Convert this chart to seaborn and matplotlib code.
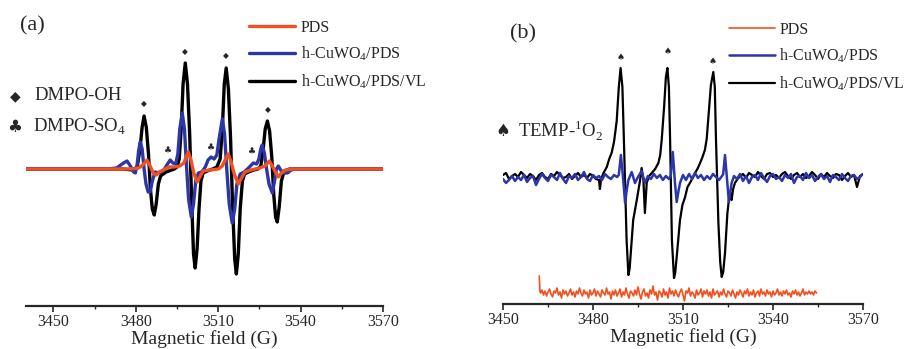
"""
EPR spectra of DMPO / TEMP adducts, panels (a) and (b)
"""

import numpy as np
import matplotlib
matplotlib.use('Agg')
import matplotlib.pyplot as plt
import seaborn as sns
from matplotlib.ticker import MultipleLocator
from matplotlib.lines import Line2D

sns.set_style("ticks")
plt.rcParams['font.family'] = ['Liberation Serif', 'DejaVu Sans']
plt.rcParams['mathtext.fontset'] = 'custom'
plt.rcParams['mathtext.rm'] = 'Liberation Serif'

RED = '#F2501E'
BLUE = '#2C36A8'
BLACK = '#000000'

# ---------------- panel (a): DMPO spin trap ----------------
a_black_field = [3440, 3460, 3475, 3479, 3480.5, 3481.5, 3482.3, 3483, 3483.8, 3484.6,
                 3485.3, 3486, 3486.7, 3487.4, 3488.2, 3489, 3490, 3491, 3492, 3493,
                 3494, 3495, 3495.8, 3496.5, 3497.2, 3498, 3498.8, 3499.6, 3500.3, 3501,
                 3501.6, 3502.3, 3503, 3503.7, 3504.5, 3506, 3508, 3509.5, 3510.7, 3511.5,
                 3512.2, 3512.9, 3513.7, 3514.5, 3515.2, 3516, 3516.6, 3517.3, 3518, 3518.8,
                 3519.6, 3521, 3523, 3524.5, 3525.5, 3526.3, 3527.1, 3527.9, 3528.7, 3529.5,
                 3530.2, 3530.9, 3531.5, 3532.2, 3533, 3534, 3536, 3570]
a_black_int = [0, 0, 0, -1, 2, 20, 42, 53, 42, 15,
               -20, -40, -46, -35, -15, -7, -5, -3, -2, -1,
               0, 2, 10, 40, 85, 106, 85, 35, -30, -85,
               -99, -80, -40, -12, -4, -2, 0, 2, 10, 40,
               85, 101, 80, 30, -35, -90, -105, -85, -40, -12,
               -5, -3, -1, 0, 3, 18, 40, 48, 38, 12,
               -25, -48, -53, -38, -12, -2, 0, 0]

a_blue_field = [3440, 3470, 3473, 3475.5, 3476.8, 3478, 3479.2, 3479.8, 3480.5, 3481,
                3481.6, 3482.3, 3483, 3483.7, 3484.5, 3485.2, 3486, 3487, 3488.5, 3490,
                3491.3, 3492.5, 3493.5, 3494.5, 3495.3, 3496, 3496.9, 3497.7, 3498.4, 3499.2,
                3500.2, 3501, 3501.8, 3502.8, 3504, 3505.3, 3506.3, 3507.4, 3508.5, 3509.5,
                3510.3, 3511.5, 3512.3, 3513.1, 3514, 3515.1, 3516, 3516.8, 3518, 3519.5,
                3521, 3522.8, 3524, 3524.8, 3525.5, 3526, 3526.8, 3527.6, 3528.5, 3529.7,
                3530.5, 3531.2, 3531.9, 3532.7, 3533.8, 3535.2, 3536.5, 3538, 3570]
a_blue_int = [0, 0, 1, 6, 8, 3, -3, -4, 5, 18,
              27, 20, 0, -15, -23, -23, -12, -3, -4, -2,
              4, 9, 6, 5, 15, 40, 56, 40, 5, -30,
              -48, -35, -12, -4, -3, 2, 9, 12, 10, 14,
              30, 50, 35, 0, -35, -54, -40, -15, -5, -3,
              1, 6, 5, 10, 20, 24, 16, 0, -15, -24,
              -12, 0, 3, -1, -4, -4, -1, 0, 0]

a_red_field = [3440, 3478, 3481, 3482.5, 3484.1, 3485.2, 3486.3, 3487.4, 3488.5, 3490,
               3492, 3494, 3496, 3497.5, 3498.3, 3499.1, 3500, 3501, 3502.3, 3503.3,
               3504.5, 3507, 3510, 3511.5, 3512.7, 3513.6, 3514.6, 3515.7, 3517.3, 3518.5,
               3519.8, 3522, 3525, 3527, 3528.6, 3529.7, 3530.8, 3531.9, 3533, 3534.5,
               3537, 3570]
a_red_int = [0, 0, 1, 4, 9, 3, -4, -6, -3, -1,
             2, 2, 3, 6, 12, 17, 10, -3, -13, -8,
             -2, -1, 0, 3, 10, 15, 8, -4, -15, -9,
             -3, -1, 1, 3, 8, 3, -3, -8, -4, -1,
             0, 0]

# peak markers in (a)
oh_field = [3483.0, 3498.0, 3512.9, 3528.1]
oh_height = [65, 117, 113, 59]
so4_field = [3491.8, 3507.4, 3522.4]
so4_height = [18, 21, 17]

# ---------------- panel (b): TEMP spin trap ----------------
# baseline segments sampled every 1 G
b_black_pre = [2, 4, -2, 1, 3, 0, 5, 2, -1, 3,
               1, -3, 2, 4, 0, -2, 3, 1, 5, 2,
               -1, 0, 3, -2, 1, 4, 0, 2, -1, 3,
               1, -2]                       # 3450 .. 3481
b_black_sig_field = [3482.0, 3482.3, 3482.7, 3483.5, 3484.6, 3485.4, 3486.2, 3487.0, 3487.9, 3488.6,
                     3489.2, 3489.8, 3490.3, 3490.8, 3491.2, 3491.8, 3492.2, 3492.6, 3493.4, 3494.6,
                     3495.7, 3496.2, 3496.8, 3497.3, 3497.9, 3498.7, 3499.6, 3500.7, 3501.8, 3502.4,
                     3502.9, 3503.7, 3504.3, 3504.8, 3505.3, 3505.7, 3506.3, 3507.0, 3507.4, 3507.9,
                     3509.0, 3509.8, 3510.7, 3511.5, 3512.3, 3513.2, 3514.0, 3514.8, 3515.7, 3516.5,
                     3517.3, 3517.9, 3518.4, 3519.3, 3520.1, 3520.6, 3521.0, 3521.8, 3522.4, 3522.9,
                     3523.4, 3524.0, 3524.8, 3525.4, 3525.8, 3526.2, 3526.7, 3527.3, 3528.2, 3529.0]
b_black_sig_int = [-3, -12, -2, 4, 10, 18, 24, 35, 56, 90,
                   109, 90, 37, -20, -63, -98, -92, -76, -43, -23,
                   -3, 9, -3, -36, -6, 1, 4, 8, 14, 22,
                   37, 70, 100, 109, 90, 37, -63, -101, -96, -80,
                   -43, -28, -20, -10, -6, -1, 4, 8, 14, 20,
                   27, 38, 57, 92, 105, 90, 37, -46, -85, -100,
                   -95, -76, -36, -20, -16, -23, -12, -6, -2, 1]
b_black_post = [3, -1, 4, 2, 0, 5, 1, -2, 3, 4,
                0, 2, -1, 3, 5, 1, -2, 2, 4, 0,
                3, -1, 1, 5, 2, -2, 3, 0, 4, 1,
                -1, 3, 2, -3, 1, 4, 0, 2, -10, 1,
                3]                           # 3530 .. 3570

b_blue_pre = [-2, -6, -3, 1, -4, 0, -3, 2, -5, -1,
              1, -8, -2, 3, -1, -4, 2, 0, -3, 4,
              -2, -6, 1, -1, 3, -3, 0, 5, -2, -4,
              2, -1, 1, -3, 3, 0, -2, 2, 0]  # 3450 .. 3488
b_blue_sig_field = [3488.6, 3489.3, 3490.0, 3490.7, 3491.3, 3491.8, 3492.9, 3494, 3495, 3496.2,
                    3497.3, 3498.3, 3499.3, 3500.3, 3501.3, 3502.3, 3503.3, 3504.3, 3505.3, 3505.9,
                    3506.6, 3507.3, 3507.9, 3508.5, 3509.0, 3510, 3511, 3512, 3513, 3514,
                    3515, 3516, 3517, 3518, 3519, 3520, 3521, 3522, 3523, 3523.4,
                    3524.0, 3524.6, 3525.3, 3525.8, 3526.2, 3527]
b_blue_sig_int = [2, 22, 0, -26, -12, -3, 5, -6, 0, 6,
                  -6, 1, -2, 3, -1, 2, -3, 1, -2, 1,
                  25, -5, -25, -14, -6, 2, -3, 3, -2, 4,
                  -1, 2, -3, 1, -2, 3, 0, -3, 1, 3,
                  22, 0, -25, -14, -6, 1]
b_blue_post = [-2, 3, -4, 1, -6, 0, 2, -3, 4, -1,
               -5, 1, 3, -2, 0, -4, 2, -1, 3, -6,
               0, 1, -3, 4, -1, 2, -4, 0, 3, -2,
               1, -5, 2, 0, -3, 3, -1, -4, 1, 2,
               -2, 0, 3]                     # 3528 .. 3570

# PDS alone: flat noisy trace, every 0.5 G from 3462.5 G
b_red_start_field = [3462.1, 3462.3]
b_red_start_int = [-99, -114]
b_red_noise = [-116, -113, -118, -114, -119, -115, -112, -117, -120, -114,
               -116, -111, -118, -115, -121, -113, -117, -114, -119, -116,
               -112, -118, -115, -120, -114, -117, -111, -116, -119, -113,
               -117, -115, -121, -113, -118, -116, -112, -119, -114, -117,
               -120, -113, -116, -118, -111, -117, -115, -122, -114, -118,
               -113, -119, -116, -112, -120, -115, -118, -111, -117, -121,
               -114, -116, -119, -113, -118, -110, -117, -122, -115, -112,
               -119, -116, -121, -113, -117, -109, -118, -115, -123, -114,
               -116, -120, -112, -118, -115, -121, -111, -117, -114, -119,
               -113, -117, -120, -115, -112, -118, -124, -114, -116, -111,
               -119, -115, -117, -121, -113, -118, -116, -112, -120, -114,
               -117, -113, -119, -115, -121, -112, -118, -116, -114, -120,
               -115, -118, -112, -117, -120, -114, -116, -119, -113, -117,
               -121, -115, -118, -113, -116, -120, -114, -117, -112, -119,
               -115, -118, -113, -120, -116, -114, -119, -112, -117, -115,
               -119, -113, -117, -115, -120, -114, -118, -116, -112, -118,
               -115, -119, -114, -117, -113, -118, -116, -120, -114, -117,
               -113, -118, -115, -119, -116, -112, -118, -115, -117, -114,
               -117, -115, -118, -114, -116]

o2_field = [3489.2, 3504.8, 3519.8]
o2_height = [120, 125, 115]

# ---------------- assemble panel (b) traces ----------------
b_black_field = np.concatenate([np.arange(3450, 3482), b_black_sig_field, np.arange(3530, 3571)])
b_black_int = np.concatenate([b_black_pre, b_black_sig_int, b_black_post])
b_blue_field = np.concatenate([np.arange(3450, 3489), b_blue_sig_field, np.arange(3528, 3571)])
b_blue_int = np.concatenate([b_blue_pre, b_blue_sig_int, b_blue_post])
b_red_field = np.concatenate([b_red_start_field, 3462.5 + 0.5 * np.arange(len(b_red_noise))])
b_red_int = np.concatenate([b_red_start_int, b_red_noise])

LABELS = ['PDS', 'h-CuWO$_{\\mathregular{4}}$/PDS', 'h-CuWO$_{\\mathregular{4}}$/PDS/VL']
SYMBOL_FONT = ['DejaVu Sans']

fig = plt.figure(figsize=(9.07, 3.49), dpi=100)
ax_a = fig.add_axes([26 / 907, 43 / 349, 357 / 907, 296 / 349])
ax_b = fig.add_axes([503 / 907, 45 / 349, 360 / 907, 294 / 349])

# panel (a)
sns.lineplot(x=a_black_field, y=a_black_int, ax=ax_a, color=BLACK, linewidth=2.4)
sns.lineplot(x=a_blue_field, y=a_blue_int, ax=ax_a, color=BLUE, linewidth=2.4)
sns.lineplot(x=a_red_field, y=a_red_int, ax=ax_a, color=RED, linewidth=2.4)
ax_a.set_xlim(3440, 3570)
ax_a.set_ylim(-137, 159)
for f, h in zip(oh_field, oh_height):
    ax_a.text(f, h, '\u25c6', ha='center', va='center', fontsize=5.5, family=SYMBOL_FONT)
for f, h in zip(so4_field, so4_height):
    ax_a.text(f, h, '\u2663', ha='center', va='center', fontsize=6.5, family=SYMBOL_FONT)

# panel (b)
sns.lineplot(x=b_red_field, y=b_red_int, ax=ax_b, color=RED, linewidth=1.2)
sns.lineplot(x=b_black_field, y=b_black_int, ax=ax_b, color=BLACK, linewidth=1.6)
sns.lineplot(x=b_blue_field, y=b_blue_int, ax=ax_b, color=BLUE, linewidth=1.8)
ax_b.set_xlim(3450, 3570)
ax_b.set_ylim(-127, 167)
for f, h in zip(o2_field, o2_height):
    ax_b.text(f, h, '\u2660', ha='center', va='center', fontsize=6.5, family=SYMBOL_FONT)

for ax in (ax_a, ax_b):
    sns.despine(ax=ax, left=True)
    ax.patch.set_alpha(0)
    ax.set_yticks([])
    ax.xaxis.set_major_locator(MultipleLocator(30))
    ax.xaxis.set_minor_locator(MultipleLocator(15))
    ax.tick_params(axis='x', which='major', bottom=True, direction='out',
                   length=4, width=1.2, labelsize=11.5, pad=2)
    ax.tick_params(axis='x', which='minor', bottom=True, direction='out',
                   length=2.5, width=1.0)
    ax.spines['bottom'].set_linewidth(1.6)
    ax.set_xlabel('Magnetic field (G)', fontsize=14, labelpad=-0.5)

# legends
handles_a = [Line2D([], [], color=c, linewidth=2.4) for c in (RED, BLUE, BLACK)]
ax_a.legend(handles_a, LABELS, loc='upper left', bbox_to_anchor=(249 / 907, 1 - 20 / 349),
            bbox_transform=fig.transFigure, frameon=False, fontsize=11.5, borderpad=0,
            borderaxespad=0, handlelength=2.9, handletextpad=0.35, labelspacing=0.55)
handles_b = [Line2D([], [], color=RED, linewidth=1.2),
             Line2D([], [], color=BLUE, linewidth=1.8),
             Line2D([], [], color=BLACK, linewidth=1.6)]
ax_b.legend(handles_b, LABELS, loc='upper left', bbox_to_anchor=(729 / 907, 1 - 22 / 349),
            bbox_transform=fig.transFigure, frameon=False, fontsize=11.5, borderpad=0,
            borderaxespad=0, handlelength=2.85, handletextpad=0.3, labelspacing=0.55)

# panel labels and species keys
fig.text(20 / 907, 1 - 26 / 349, '(a)', fontsize=16, va='center')
fig.text(510 / 907, 1 - 34 / 349, '(b)', fontsize=16, va='center')
fig.text(15 / 907, 1 - 96 / 349, '\u25c6', fontsize=10, ha='center', va='center', family=SYMBOL_FONT)
fig.text(34 / 907, 1 - 96 / 349, 'DMPO-OH', fontsize=13.5, va='center')
fig.text(15 / 907, 1 - 127 / 349, '\u2663', fontsize=12, ha='center', va='center', family=SYMBOL_FONT)
fig.text(33 / 907, 1 - 127 / 349, 'DMPO-SO$_{\\mathregular{4}}$', fontsize=13.5, va='center')
fig.text(503 / 907, 1 - 131 / 349, '\u2660', fontsize=12, ha='center', va='center', family=SYMBOL_FONT)
fig.text(518 / 907, 1 - 131 / 349, 'TEMP-$^{\\mathregular{1}}$O$_{\\mathregular{2}}$',
         fontsize=13.5, va='center')

plt.savefig('out.png', dpi=100)
plt.close()
